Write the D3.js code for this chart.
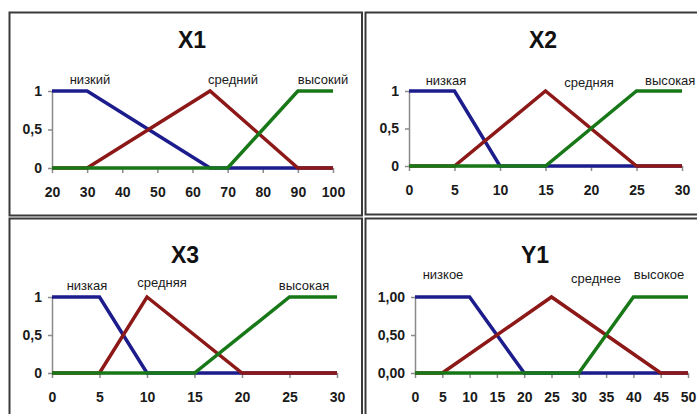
<!DOCTYPE html>
<html><head><meta charset="utf-8">
<script src="https://cdn.jsdelivr.net/npm/d3@7"></script>
<style>
html,body{margin:0;padding:0;background:#fff;}
svg{display:block;font-family:"Liberation Sans",Arial,sans-serif;}
</style></head>
<body>
<svg id="c" width="697" height="414"></svg>
<script>
// ---- data ----
const titles = ["X1", "X2", "X3", "Y1"];
const termNames1 = ["низкий", "средний", "высокий"];
const termNames2 = ["низкая", "средняя", "высокая"];
const termNames3 = ["низкая", "средняя", "высокая"];
const termNames4 = ["низкое", "среднее", "высокое"];

const xTicks1 = [20, 30, 40, 50, 60, 70, 80, 90, 100];
const xTicks2 = [0, 5, 10, 15, 20, 25, 30];
const xTicks3 = [0, 5, 10, 15, 20, 25, 30];
const xTicks4 = [0, 5, 10, 15, 20, 25, 30, 35, 40, 45, 50];
const yTickValues = [0, 0.5, 1];
const yTickLabels123 = ["0", "0,5", "1"];
const yTickLabels4 = ["0,00", "0,50", "1,00"];

// series: [x, membership]
const x1Low  = [[20,1],[30,1],[65,0],[100,0]];
const x1Mid  = [[20,0],[30,0],[65,1],[90,0],[100,0]];
const x1High = [[20,0],[70,0],[90,1],[100,1]];

const x2Low  = [[0,1],[5,1],[10,0],[30,0]];
const x2Mid  = [[0,0],[5,0],[15,1],[25,0],[30,0]];
const x2High = [[0,0],[15,0],[25,1],[30,1]];

const x3Low  = [[0,1],[5,1],[10,0],[30,0]];
const x3Mid  = [[0,0],[5,0],[10,1],[20,0],[30,0]];
const x3High = [[0,0],[15,0],[25,1],[30,1]];

const y1Low  = [[0,1],[10,1],[20,0],[50,0]];
const y1Mid  = [[0,0],[5,0],[25,1],[45,0],[50,0]];
const y1High = [[0,0],[30,0],[40,1],[50,1]];

// ---- layout / style ----
const colors = ["#1c1c8c", "#8c1818", "#187818"];
const svg = d3.select("#c");

const frames = [
  {x:9.5, y:12.5, w:352.5, h:203},
  {x:365.5, y:12.5, w:340, h:202},
  {x:9.5, y:218.5, w:352.5, h:210},
  {x:365.5, y:218.5, w:340, h:210}
];
frames.forEach(f => svg.append("rect").attr("x", f.x).attr("y", f.y)
  .attr("width", f.w).attr("height", f.h)
  .attr("fill", "none").attr("stroke", "#3a3a3a").attr("stroke-width", 2));

const panels = [
  {title: titles[0], names: termNames1, ticks: xTicks1, ylab: yTickLabels123,
   series: [x1Low, x1Mid, x1High], x0: 52, x1: 333, yTop: 91, yBot: 168,
   tx: 192, ty: 48, labels: [[90,84,"middle"],[233,84,"middle"],[323,84,"middle"]]},
  {title: titles[1], names: termNames2, ticks: xTicks2, ylab: yTickLabels123,
   series: [x2Low, x2Mid, x2High], x0: 409, x1: 682, yTop: 91, yBot: 166,
   tx: 543, ty: 48, labels: [[446,85,"middle"],[589,87,"middle"],[645,85,"start"]]},
  {title: titles[2], names: termNames3, ticks: xTicks3, ylab: yTickLabels123,
   series: [x3Low, x3Mid, x3High], x0: 52, x1: 337, yTop: 297, yBot: 373,
   tx: 185, ty: 263, labels: [[87,290,"middle"],[162,287,"middle"],[304,290,"middle"]]},
  {title: titles[3], names: termNames4, ticks: xTicks4, ylab: yTickLabels4,
   series: [y1Low, y1Mid, y1High], x0: 415, x1: 688, yTop: 297, yBot: 373,
   tx: 535, ty: 263, labels: [[443,279,"middle"],[596,283,"middle"],[659,279,"middle"]]}
];

panels.forEach(p => {
  const x = d3.scaleLinear().domain(d3.extent(p.ticks)).range([p.x0, p.x1]);
  const y = d3.scaleLinear().domain([0, 1]).range([p.yBot, p.yTop]);
  const g = svg.append("g");

  // title
  g.append("text").attr("x", p.tx).attr("y", p.ty).attr("text-anchor", "middle")
    .attr("font-size", 23).attr("font-weight", "bold").attr("fill", "#111").text(p.title);

  // axes
  const ax = g.append("g").attr("transform", `translate(0,${p.yBot})`)
    .call(d3.axisBottom(x).tickValues(p.ticks).tickFormat(d3.format("d"))
      .tickSizeInner(5).tickSizeOuter(0).tickPadding(14));
  const ay = g.append("g").attr("transform", `translate(${p.x0},0)`)
    .call(d3.axisLeft(y).tickValues(yTickValues).tickFormat((d, i) => p.ylab[i])
      .tickSizeInner(4).tickSizeOuter(0).tickPadding(6));
  [ax, ay].forEach(a => {
    a.select(".domain").attr("stroke", "#8a8a8a").attr("stroke-width", 1.5);
    a.selectAll(".tick line").attr("stroke", "#8a8a8a").attr("stroke-width", 1.5);
    a.selectAll(".tick text").attr("font-size", 14).attr("font-weight", "bold").attr("fill", "#1a1a1a")
      .attr("font-family", "'Liberation Sans',Arial,sans-serif");
  });

  // series lines
  const line = d3.line().x(d => x(d[0])).y(d => y(d[1]));
  p.series.forEach((s, i) => {
    g.append("path").attr("d", line(s)).attr("fill", "none")
      .attr("stroke", colors[i]).attr("stroke-width", 3.5).attr("stroke-linejoin", "miter");
  });

  // term labels
  p.names.forEach((n, i) => {
    const l = p.labels[i];
    g.append("text").attr("x", l[0]).attr("y", l[1]).attr("text-anchor", l[2])
      .attr("font-size", 13).attr("fill", "#1a1a1a").text(n);
  });
});
</script>
</body></html>
